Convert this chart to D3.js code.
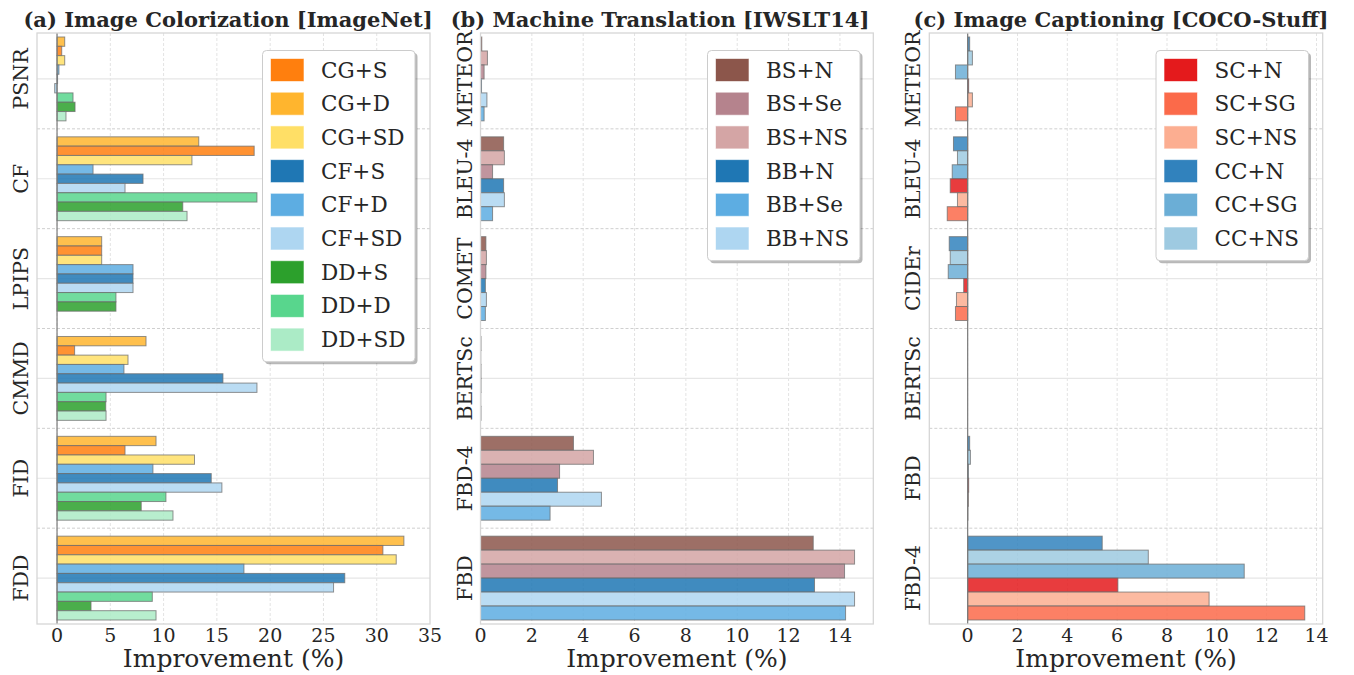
<!DOCTYPE html>
<html>
<head>
<meta charset="utf-8">
<script src="https://cdn.jsdelivr.net/npm/d3@7"></script>
<style>
  body { margin: 0; background: #fff; }
  text { font-family: "DejaVu Serif", serif; fill: #262626; }
</style>
</head>
<body>
<div id="chart"></div>
<script>
// ---- data ----
// (a) Image Colorization
var aCategories = ["PSNR", "CF", "LPIPS", "CMMD", "FID", "FDD"];
var aLegend = ["CG+S", "CG+D", "CG+SD", "CF+S", "CF+D", "CF+SD", "DD+S", "DD+D", "DD+SD"];
var aBarOrder = ["CG+D", "CG+S", "CG+SD", "CF+D", "CF+S", "CF+SD", "DD+D", "DD+S", "DD+SD"];
var aColors = ["#ff7f0e", "#ffb52e", "#ffdf66", "#1f77b4", "#5dade2", "#aed6f1", "#2ca02c", "#58d68d", "#abebc6"];
var aValues = {
  "CG+S":  [0.44, 18.5, 4.19, 1.65, 6.38, 30.58],
  "CG+D":  [0.72, 13.3, 4.19, 8.35, 9.29, 32.55],
  "CG+SD": [0.72, 12.66, 4.19, 6.66, 12.9, 31.83],
  "CF+S":  [0.05, 8.07, 7.13, 15.57, 14.47, 27.0],
  "CF+D":  [0.18, 3.38, 7.13, 6.28, 9.0, 17.54],
  "CF+SD": [-0.22, 6.38, 7.13, 18.76, 15.47, 25.95],
  "DD+S":  [1.69, 11.8, 5.53, 4.57, 7.9, 3.19],
  "DD+D":  [1.5, 18.76, 5.53, 4.6, 10.22, 8.94],
  "DD+SD": [0.84, 12.2, 0, 4.6, 10.88, 9.29]
};
var aTicks = [0, 5, 10, 15, 20, 25, 30, 35];

// (b) Machine Translation
var bCategories = ["METEOR", "BLEU-4", "COMET", "BERTSc", "FBD-4", "FBD"];
var bLegend = ["BS+N", "BS+Se", "BS+NS", "BB+N", "BB+Se", "BB+NS"];
var bBarOrder = ["BS+N", "BS+NS", "BS+Se", "BB+N", "BB+NS", "BB+Se"];
var bColors = ["#8c564b", "#b5838d", "#d4a5a5", "#1f77b4", "#5dade2", "#aed6f1"];
var bValues = {
  "BS+N":  [0.05, 0.9, 0.21, 0.02, 3.62, 12.96],
  "BS+Se": [0.14, 0.47, 0.21, 0.02, 3.08, 14.18],
  "BS+NS": [0.27, 0.93, 0.23, 0.01, 4.40, 14.57],
  "BB+N":  [0.04, 0.9, 0.19, 0.02, 3.0, 13.01],
  "BB+Se": [0.14, 0.47, 0.19, 0.02, 2.71, 14.22],
  "BB+NS": [0.25, 0.93, 0.23, 0.01, 4.71, 14.57]
};
var bTicks = [0, 2, 4, 6, 8, 10, 12, 14];

// (c) Image Captioning
var cCategories = ["METEOR", "BLEU-4", "CIDEr", "BERTSc", "FBD", "FBD-4"];
var cLegend = ["SC+N", "SC+SG", "SC+NS", "CC+N", "CC+SG", "CC+NS"];
var cBarOrder = ["CC+N", "CC+NS", "CC+SG", "SC+N", "SC+NS", "SC+SG"];
var cColors = ["#e41a1c", "#fb6a4a", "#fcae91", "#3182bd", "#6baed6", "#9ecae1"];
var cValues = {
  "SC+N":  [0.04, -0.70, -0.16, 0.0, 0.04, 6.03],
  "SC+SG": [-0.49, -0.82, -0.49, 0.0, 0.01, 13.53],
  "SC+NS": [0.19, -0.41, -0.45, 0.0, 0.03, 9.69],
  "CC+N":  [0.08, -0.57, -0.74, 0.0, 0.08, 5.40],
  "CC+SG": [-0.49, -0.62, -0.78, 0.0, 0.03, 11.1],
  "CC+NS": [0.19, -0.41, -0.70, 0.0, 0.11, 7.25]
};
var cTicks = [0, 2, 4, 6, 8, 10, 12, 14];

// ---- layout ----
var W = 1354, H = 675;
var plotTop = 33, plotBottom = 624;

var panels = [
  { title: "(a) Image Colorization [ImageNet]", titleX: 228, left: 37, right: 430, xdom: [-1.88, 35],
    cats: aCategories, legend: aLegend, order: aBarOrder, colors: aColors, values: aValues, ticks: aTicks,
    zeroLine: true, legendX: 262.5 },
  { title: "(b) Machine Translation [IWSLT14]", titleX: 660, left: 480.5, right: 873.3, xdom: [0, 15.3],
    cats: bCategories, legend: bLegend, order: bBarOrder, colors: bColors, values: bValues, ticks: bTicks,
    zeroLine: false, legendX: 707.5 },
  { title: "(c) Image Captioning [COCO-Stuff]", titleX: 1121, left: 929.3, right: 1322.7, xdom: [-1.54, 14.25],
    cats: cCategories, legend: cLegend, order: cBarOrder, colors: cColors, values: cValues, ticks: cTicks,
    zeroLine: true, legendX: 1156 }
];

var svg = d3.select("#chart").append("svg")
  .attr("width", W)
  .attr("height", H);

var defs = svg.append("defs");

panels.forEach(function(p, pi) {
  var g = svg.append("g");
  var color = d3.scaleOrdinal().domain(p.legend).range(p.colors);

  var x = d3.scaleLinear().domain(p.xdom).range([p.left, p.right]);
  var n = p.cats.length;
  // category index -> vertical center
  var y = d3.scaleLinear().domain([-0.46, n - 1 + 0.46]).range([plotTop, plotBottom]);
  var step = y(1) - y(0);

  // clip for plot area
  defs.append("clipPath").attr("id", "clip" + pi)
    .append("rect")
    .attr("x", p.left).attr("y", plotTop)
    .attr("width", p.right - p.left).attr("height", plotBottom - plotTop);

  // vertical dashed grid at x ticks
  g.selectAll(".vgrid").data(p.ticks.filter(function(t) { return x(t) < p.right - 1; }))
    .enter().append("line")
    .attr("x1", function(d) { return x(d); }).attr("x2", function(d) { return x(d); })
    .attr("y1", plotTop).attr("y2", plotBottom)
    .attr("stroke", "#e3e3e3").attr("stroke-width", 1)
    .attr("stroke-dasharray", "3,2");

  // horizontal solid grid at category centers
  g.selectAll(".hgrid").data(p.cats)
    .enter().append("line")
    .attr("x1", p.left).attr("x2", p.right)
    .attr("y1", function(d, i) { return y(i); }).attr("y2", function(d, i) { return y(i); })
    .attr("stroke", "#e6e6e6").attr("stroke-width", 1.2);

  // dashed separators between groups
  g.selectAll(".sep").data(d3.range(n - 1))
    .enter().append("line")
    .attr("x1", p.left).attr("x2", p.right)
    .attr("y1", function(d) { return y(d + 0.5); }).attr("y2", function(d) { return y(d + 0.5); })
    .attr("stroke", "#cfcfcf").attr("stroke-width", 1)
    .attr("stroke-dasharray", "3,2");

  // bars
  var inner = d3.scaleBand().domain(p.order).range([-0.42 * step, 0.42 * step]).padding(0);
  var bars = [];
  p.cats.forEach(function(c, ci) {
    p.order.forEach(function(s) {
      bars.push({ cat: ci, series: s, value: p.values[s][ci] });
    });
  });

  g.append("g").attr("clip-path", "url(#clip" + pi + ")")
    .selectAll("rect").data(bars)
    .enter().append("rect")
    .attr("x", function(d) { return Math.min(x(0), x(d.value)); })
    .attr("y", function(d) { return y(d.cat) + inner(d.series); })
    .attr("width", function(d) { return Math.abs(x(d.value) - x(0)); })
    .attr("height", inner.bandwidth())
    .attr("fill", function(d) { return color(d.series); })
    .attr("fill-opacity", 0.85)
    .attr("stroke", "#6e6e6e")
    .attr("stroke-opacity", 0.75)
    .attr("stroke-width", 1);

  // zero line
  if (p.zeroLine) {
    g.append("line")
      .attr("x1", x(0)).attr("x2", x(0))
      .attr("y1", plotTop).attr("y2", plotBottom)
      .attr("stroke", "#7a7a7a").attr("stroke-width", 1.2);
  }

  // frame
  g.append("rect")
    .attr("x", p.left).attr("y", plotTop)
    .attr("width", p.right - p.left).attr("height", plotBottom - plotTop)
    .attr("fill", "none").attr("stroke", "#d6d6d6").attr("stroke-width", 1.3);

  // x tick labels
  g.selectAll(".xt").data(p.ticks)
    .enter().append("text")
    .attr("x", function(d) { return x(d); })
    .attr("y", 642)
    .attr("text-anchor", "middle")
    .style("font-size", "19px")
    .text(function(d) { return d; });

  // x label
  g.append("text")
    .attr("x", (p.left + p.right) / 2)
    .attr("y", 667)
    .attr("text-anchor", "middle")
    .style("font-size", "25px")
    .text("Improvement (%)");

  // category labels (rotated)
  g.selectAll(".yt").data(p.cats)
    .enter().append("text")
    .attr("transform", function(d, i) { return "translate(" + (p.left - 9) + "," + y(i) + ") rotate(-90)"; })
    .attr("text-anchor", "middle")
    .style("font-size", "20.5px")
    .text(function(d) { return d; });

  // title
  g.append("text")
    .attr("x", p.titleX)
    .attr("y", 26.5)
    .attr("text-anchor", "middle")
    .style("font-size", "21px")
    .style("font-weight", "bold")
    .text(p.title);

  // legend
  var rowH = 33.7;
  var lx = p.legendX, ly = 50.5;
  var lw = 152.5, lh = p.legend.length * rowH + 8;
  var lg = g.append("g");
  lg.append("rect")
    .attr("x", lx + 2.5).attr("y", ly + 2.5)
    .attr("width", lw).attr("height", lh)
    .attr("rx", 4).attr("fill", "#000").attr("fill-opacity", 0.28);
  lg.append("rect")
    .attr("x", lx).attr("y", ly)
    .attr("width", lw).attr("height", lh)
    .attr("rx", 4).attr("fill", "#fff").attr("stroke", "#cccccc").attr("stroke-width", 1);
  var items = lg.selectAll(".li").data(p.legend).enter().append("g")
    .attr("transform", function(d, i) { return "translate(" + lx + "," + (ly + 19.5 + i * rowH) + ")"; });
  items.append("rect")
    .attr("x", 8).attr("y", -11.5)
    .attr("width", 33.5).attr("height", 23)
    .attr("fill", function(d) { return color(d); })
    .attr("stroke", "#ffffff").attr("stroke-opacity", 0.6).attr("stroke-width", 1);
  items.append("text")
    .attr("x", 58.5).attr("y", 7.5)
    .style("font-size", "21.5px")
    .text(function(d) { return d; });
});
</script>
</body>
</html>
